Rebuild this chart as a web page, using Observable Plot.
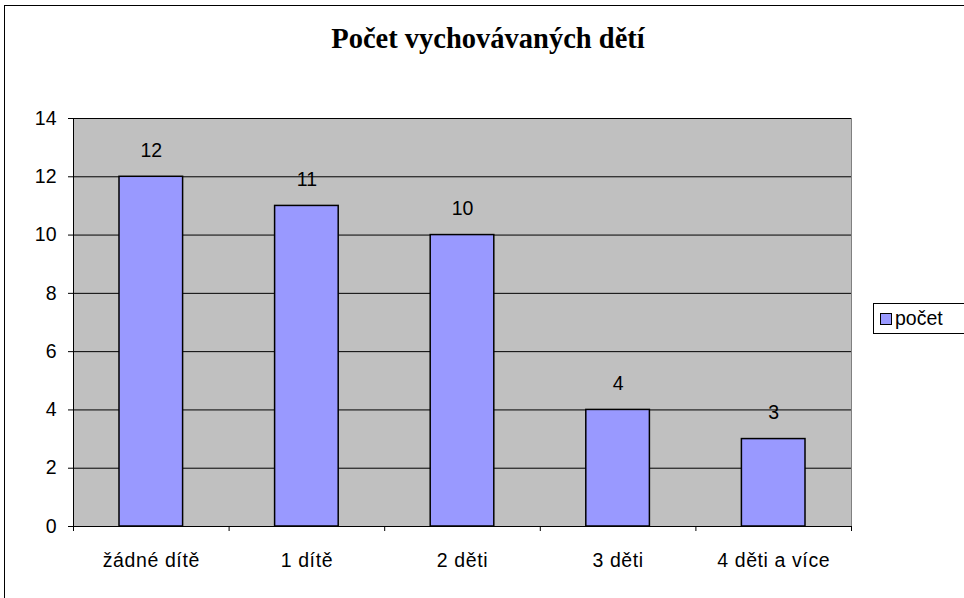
<!DOCTYPE html>
<html>
<head>
<meta charset="utf-8">
<script src="https://cdn.jsdelivr.net/npm/d3@7"></script>
<script src="https://cdn.jsdelivr.net/npm/@observablehq/plot@0.6"></script>
<style>
  html, body { margin: 0; padding: 0; background: #fff; overflow: hidden; }
  #wrap { position: relative; width: 964px; height: 598px; overflow: hidden; }
  #border { position: absolute; left: 4px; top: 5px; width: 1100px; height: 800px; border: 1.5px solid #000; box-sizing: border-box; }
  #title { position: absolute; left: 0; top: 25px; width: 976px; text-align: center; line-height: 1;
           font-family: "Liberation Serif", "Times New Roman", serif; font-weight: bold; font-size: 28.5px; color: #000; }
  #legend { position: absolute; left: 873px; top: 303px; width: 92px; height: 31px; border: 1px solid #000; box-sizing: border-box;
            background: #fff; font-family: "Liberation Sans", Arial, sans-serif; font-size: 19.5px; display: flex; align-items: center; }
  #legend .sw { display: inline-block; width: 10px; height: 10px; background: #9999ff; border: 1px solid #000; margin-left: 6px; margin-right: 3px; }
  #chart { position: absolute; left: 0; top: 0; }
</style>
</head>
<body>
<div id="wrap">
  <div id="border"></div>
  <div id="chart"></div>
  <div id="title">Počet vychovávaných dětí</div>
  <div id="legend"><span class="sw"></span><span id="legendLabel"></span></div>
</div>
<script>
const categories = ["žádné dítě", "1 dítě", "2 děti", "3 děti", "4 děti a více"];
const values = [12, 11, 10, 4, 3];
const seriesName = "počet";
const yTicks = [0, 2, 4, 6, 8, 10, 12, 14];

const data = categories.map((c, i) => ({i, category: c, value: values[i]}));
const boundaries = d3.range(0, categories.length + 1);
const centers = categories.map((c, i) => i + 0.5);

document.getElementById("legendLabel").textContent = seriesName;

const plot = Plot.plot({
  width: 964,
  height: 598,
  marginLeft: 73,
  marginRight: 113,
  marginTop: 118,
  marginBottom: 72,
  style: {fontFamily: "'Liberation Sans', Arial, sans-serif", fontSize: "19.5px", background: "transparent", color: "#000"},
  x: {domain: [0, categories.length]},
  y: {domain: [0, 14]},
  marks: [
    Plot.frame({fill: "#c0c0c0", stroke: "#808080"}),
    Plot.ruleY(yTicks.filter(d => d > 0), {stroke: "#000", strokeWidth: 1}),
    Plot.rectY(data, {x1: "i", x2: d => d.i + 1, y: "value", insetLeft: 46, insetRight: 46,
                      fill: "#9999ff", stroke: "#000", strokeWidth: 1.5}),
    Plot.text(data, {x: d => d.i + 0.5, y: "value", text: d => String(d.value), dy: -26,
                     fontSize: 19.5, fill: "#000", lineAnchor: "middle"}),
    Plot.ruleX([0], {stroke: "#000"}),
    Plot.ruleY([0], {stroke: "#000"}),
    Plot.axisY({ticks: yTicks, tickSize: 5, tickPadding: 12, label: null, fontSize: 19.5}),
    Plot.axisX({ticks: boundaries, tickSize: 5, tickFormat: () => "", label: null}),
    Plot.axisX({ticks: centers, tickSize: 0, tickPadding: 27, label: null, fontSize: 19.5,
                tickFormat: d => categories[Math.round(d - 0.5)]})
  ]
});
// slight letter spacing on category labels to match the reference's wider setting
d3.select(plot).selectAll("g[aria-label='x-axis tick label'] text").style("letter-spacing", "0.6px");
document.getElementById("chart").appendChild(plot);
</script>
</body>
</html>
